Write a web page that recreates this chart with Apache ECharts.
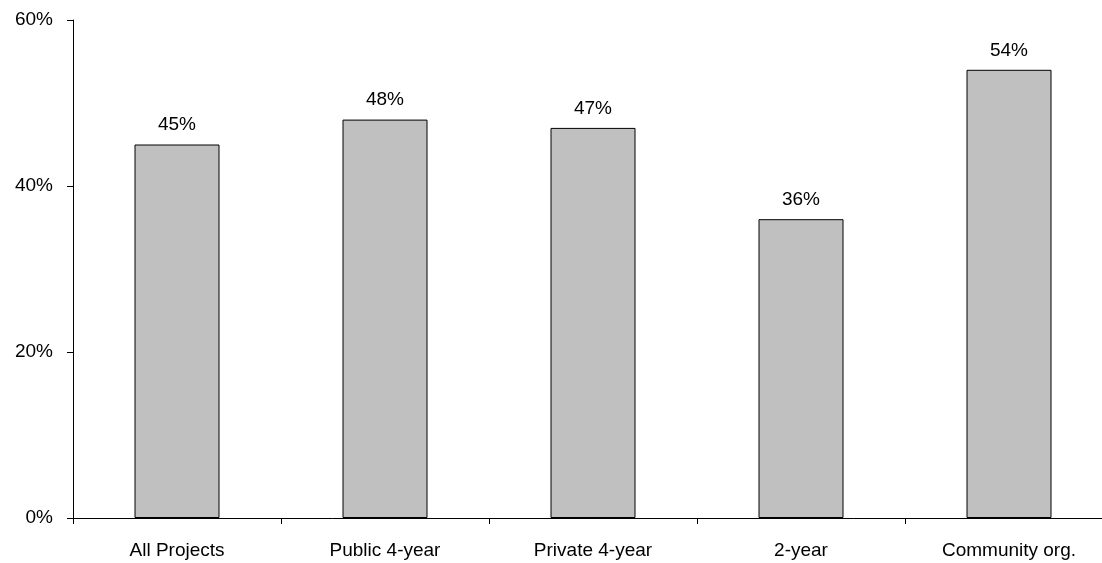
<!DOCTYPE html>
<html>
<head>
<meta charset="utf-8">
<script src="https://cdn.jsdelivr.net/npm/echarts@6/dist/echarts.min.js"></script>
<style>
  html, body { margin: 0; padding: 0; background: #fff; overflow: hidden; }
  /* the plot runs a little past the right edge of the page */
  #chart { width: 1113px; height: 563px; }
</style>
</head>
<body>
<div id="chart"></div>
<script>
// Share of projects by institution type
const categories = ['All Projects', 'Public 4-year', 'Private 4-year', '2-year', 'Community org.'];
const values = [45, 48, 47, 36, 54];
const yTicks = [0, 20, 40, 60];

const chart = echarts.init(document.getElementById('chart'));
const font = '"Liberation Sans", Arial, sans-serif';

chart.setOption({
  animation: false,
  grid: { left: 73, right: 0, top: 20, bottom: 45, containLabel: false },
  xAxis: {
    type: 'category',
    data: categories,
    boundaryGap: true,
    axisLine: { lineStyle: { color: '#000', width: 1 } },
    axisTick: { show: true, inside: false, length: 6, lineStyle: { color: '#000' } },
    axisLabel: { color: '#000', fontFamily: font, fontSize: 19, margin: 23 },
    splitLine: { show: false }
  },
  yAxis: {
    type: 'value',
    min: yTicks[0],
    max: yTicks[yTicks.length - 1],
    interval: 20,
    axisLine: { show: true, lineStyle: { color: '#000', width: 1 } },
    axisTick: { show: true, inside: false, length: 6, lineStyle: { color: '#000' } },
    axisLabel: { color: '#000', fontFamily: font, fontSize: 19, margin: 20, formatter: v => v + '%' },
    splitLine: { show: false }
  },
  series: [{
    type: 'bar',
    data: values,
    barWidth: 85,
    itemStyle: { color: '#C0C0C0', borderColor: '#000', borderWidth: 1 },
    label: {
      show: true,
      position: 'top',
      distance: 10,
      color: '#000',
      fontFamily: font,
      fontSize: 19,
      formatter: p => p.value + '%'
    }
  }]
});
</script>
</body>
</html>
